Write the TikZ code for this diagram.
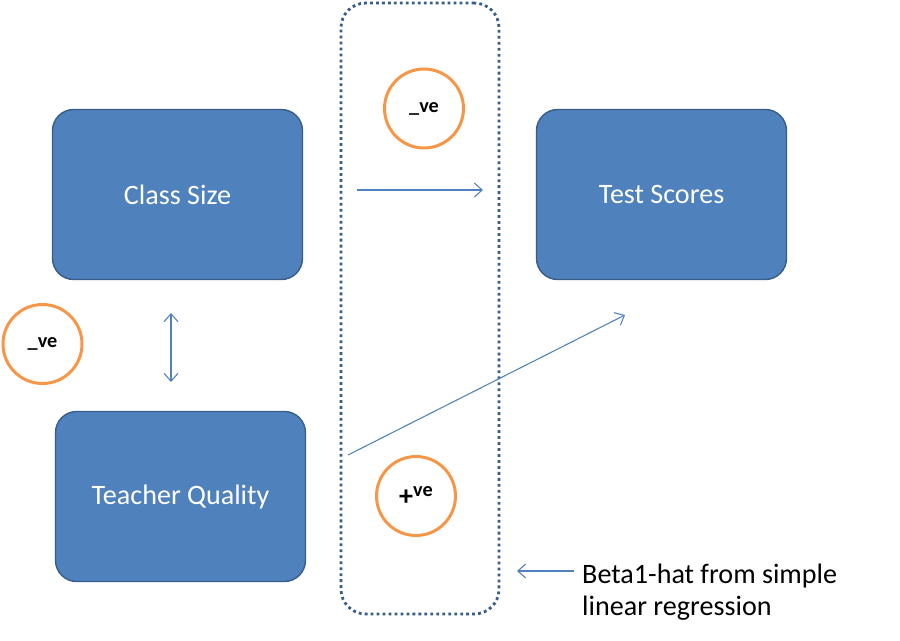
\documentclass[tikz,border=0pt]{standalone}
\usepackage{fontspec}
\setmainfont{Carlito}
\usepackage{tikz}
\usetikzlibrary{arrows.meta,calc}
\definecolor{boxblue}{HTML}{4F81BD}
\definecolor{boxedge}{HTML}{385D8A}
\definecolor{signorange}{HTML}{F79646}
\tikzset{
  factor/.style={draw=boxedge,line width=0.8pt,fill=boxblue,rounded corners=12pt,
    minimum width=5.0cm,minimum height=3.4cm,text=white,font=\fontsize{16}{19}\selectfont},
  sign/.style={circle,draw=signorange,line width=1.7pt,fill=white,minimum size=1.58cm,
    inner sep=0pt,font=\bfseries\fontsize{11.5}{13}\selectfont},
  link/.style={draw=boxblue,line width=0.6pt,-{Straight Barb[length=4.5pt,width=8pt]}},
}

\begin{document}
\begin{tikzpicture}[x=0.02cm,y=-0.02cm]
    \fill[white] (0,0) rectangle (900,640);
    \useasboundingbox (0,0) rectangle (900,640);

    % omitted variable frame
    \node[draw=boxedge,line width=1.6pt,dash pattern=on 1.6pt off 1.8pt,rounded corners=14pt,
      minimum width=3.16cm,minimum height=12.22cm] (frame) at (420,308.5) {};

    % the three variables
    \node[factor] (class) at (177.5,194.5) {Class Size};
    \node[factor] (scores) at (661.5,194.5) {Test Scores};
    \node[factor] (teacher) at (180.5,496.5) {Teacher Quality};

    % signs
    \node[sign] (negtop) at (424,108.5) {\_ve};
    \node[sign] (negleft) at (42.5,344) {\_ve};
    \node[sign] (pos) at (416,496) {\fontsize{16}{16}\selectfont+\raisebox{0.3em}{\fontsize{11.5}{13}\selectfont ve}};

    % arrows
    \coordinate (a1) at (357,190);
    \coordinate (a2) at (483,190);
    \draw[link] (a1) -- (a2);

    \coordinate (b1) at (171,313);
    \coordinate (b2) at (171,382);
    \draw[link,{Straight Barb[length=4.5pt,width=8pt]}-{Straight Barb[length=4.5pt,width=8pt]}] (b1) -- (b2);

    \coordinate (c1) at (348,455);
    \coordinate (c2) at (625,315);
    \draw[link] (c1) -- (c2);

    \node[anchor=west,align=left,font=\fontsize{16}{18.5}\selectfont] (note) at (576,592)
      {Beta1-hat from simple\\linear regression};
    \coordinate (d2) at (517,571);
    \draw[link] ($(note.west)+(-2,-21)$) -- (d2);
\end{tikzpicture}
\end{document}
